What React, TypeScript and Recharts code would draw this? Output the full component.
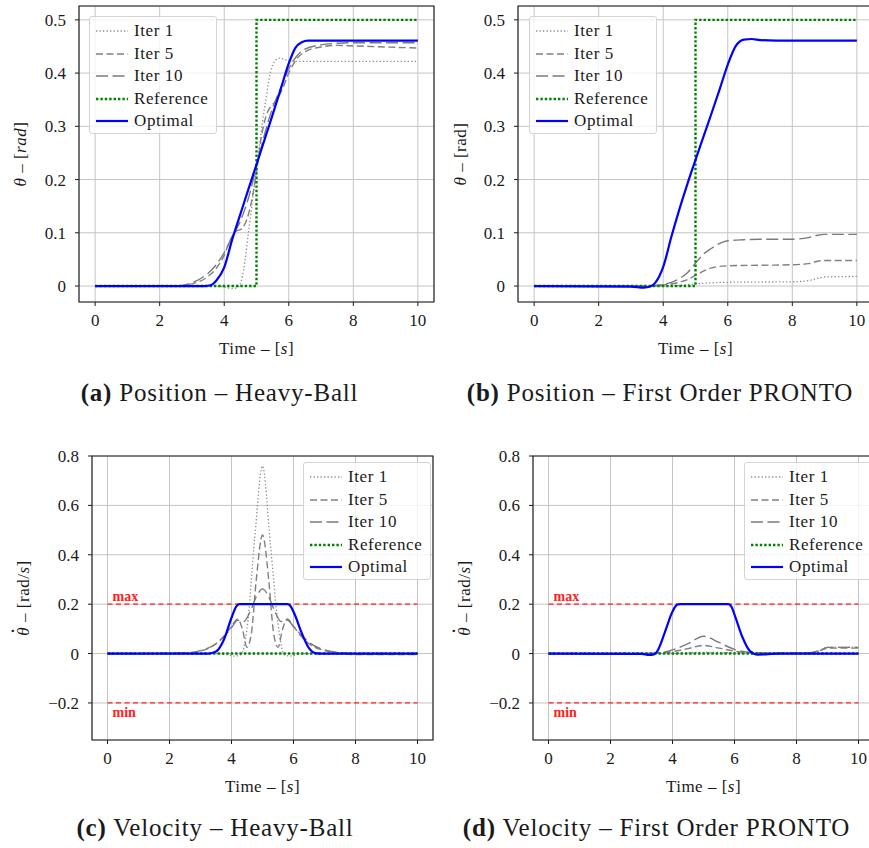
import React from 'react';
import { LineChart, Line, XAxis, YAxis, CartesianGrid, ReferenceArea, ReferenceLine } from 'recharts';

type Pt = [number, number];

const FONT = "'Liberation Serif', 'Times New Roman', serif";

const xTicks = [0, 2, 4, 6, 8, 10];
const posTicks = [0, 0.1, 0.2, 0.3, 0.4, 0.5];
const velTicks = [-0.2, 0, 0.2, 0.4, 0.6, 0.8];
const seriesNames = ['Iter 1', 'Iter 5', 'Iter 10', 'Reference', 'Optimal'];
const velLimits = [0.2, -0.2];
const limitNames = ['max', 'min'];
const limitSpan = [0, 10];

// (a) position, heavy-ball
const hbPosIter1: Pt[] = [[0, 0], [3.5, 0], [4, -0.002], [4.25, -0.005], [4.45, -0.001], [4.6, 0.03], [4.75, 0.1], [5, 0.22], [5.25, 0.335], [5.5, 0.415], [5.7, 0.428], [5.9, 0.425], [6.25, 0.422], [10, 0.422]];
const hbPosIter5: Pt[] = [[0, 0], [2.5, 0], [3, 0.004], [3.5, 0.018], [3.75, 0.033], [4, 0.058], [4.2, 0.088], [4.35, 0.102], [4.55, 0.108], [4.7, 0.125], [4.85, 0.16], [5, 0.215], [5.15, 0.28], [5.3, 0.32], [5.45, 0.338], [5.6, 0.347], [5.8, 0.37], [6, 0.4], [6.25, 0.427], [6.5, 0.44], [7, 0.449], [7.5, 0.452], [8, 0.451], [9, 0.449], [10, 0.447]];
const hbPosIter10: Pt[] = [[0, 0], [2.5, 0], [3, 0.006], [3.5, 0.024], [3.75, 0.04], [4, 0.063], [4.25, 0.093], [4.5, 0.122], [4.75, 0.165], [5, 0.225], [5.25, 0.285], [5.5, 0.335], [5.75, 0.372], [6, 0.408], [6.25, 0.432], [6.5, 0.445], [7, 0.453], [7.5, 0.456], [8, 0.457], [10, 0.457]];
const hbPosOpt: Pt[] = [[0, 0], [3.4, 0], [3.6, 0.002], [3.75, 0.01], [4, 0.035], [4.25, 0.088], [4.5, 0.135], [4.75, 0.182], [5, 0.228], [5.25, 0.275], [5.5, 0.322], [5.75, 0.37], [6, 0.418], [6.2, 0.447], [6.4, 0.458], [6.6, 0.461], [10, 0.461]];
const posRef: Pt[] = [[0, 0], [5, 0], [5, 0.5], [10, 0.5]];

// (b) position, first order PRONTO
const prPosIter1: Pt[] = [[0, 0], [4, 0], [4.5, 0.001], [5, 0.004], [5.5, 0.006], [6, 0.007], [8, 0.008], [8.5, 0.01], [8.75, 0.014], [9, 0.017], [10, 0.018]];
const prPosIter5: Pt[] = [[0, 0], [3.5, 0], [4, 0.002], [4.5, 0.007], [4.75, 0.012], [5, 0.02], [5.25, 0.028], [5.5, 0.034], [5.75, 0.037], [6, 0.038], [7, 0.039], [8, 0.04], [8.5, 0.042], [8.75, 0.046], [9, 0.048], [10, 0.048]];
const prPosIter10: Pt[] = [[0, 0], [3.5, 0], [4, 0.003], [4.25, 0.007], [4.5, 0.014], [4.75, 0.025], [5, 0.043], [5.25, 0.06], [5.5, 0.071], [5.75, 0.08], [6, 0.085], [6.5, 0.087], [7, 0.088], [8, 0.088], [8.5, 0.091], [8.75, 0.095], [9, 0.097], [10, 0.097]];
const prPosOpt: Pt[] = [[0, 0], [3, -0.001], [3.4, -0.003], [3.6, -0.001], [3.75, 0.006], [4, 0.036], [4.25, 0.092], [4.5, 0.144], [4.75, 0.192], [5, 0.237], [5.25, 0.281], [5.5, 0.325], [5.75, 0.37], [6, 0.416], [6.25, 0.451], [6.5, 0.463], [6.75, 0.464], [7, 0.462], [7.5, 0.461], [10, 0.461]];

// (c) velocity, heavy-ball
const hbVelIter1: Pt[] = [[0, 0], [3.5, 0], [3.8, -0.004], [4.1, -0.01], [4.3, -0.005], [4.5, 0.1], [4.75, 0.47], [5, 0.76], [5.25, 0.45], [5.5, 0.12], [5.7, -0.005], [5.9, -0.01], [6.2, -0.002], [6.5, 0], [10, 0]];
const hbVelIter5: Pt[] = [[0, 0], [2.5, 0.002], [3, 0.01], [3.5, 0.04], [3.75, 0.07], [4, 0.11], [4.2, 0.14], [4.35, 0.1], [4.5, 0.025], [4.65, 0.09], [4.8, 0.3], [5, 0.48], [5.2, 0.3], [5.35, 0.09], [5.5, 0.025], [5.65, 0.1], [5.8, 0.14], [6, 0.11], [6.25, 0.07], [6.5, 0.04], [7, 0.012], [7.5, 0.002], [8, -0.004], [10, -0.004]];
const hbVelIter10: Pt[] = [[0, 0], [2.5, 0.002], [3, 0.012], [3.5, 0.04], [3.75, 0.068], [4, 0.105], [4.2, 0.135], [4.4, 0.13], [4.6, 0.17], [4.8, 0.23], [5, 0.262], [5.2, 0.23], [5.4, 0.17], [5.6, 0.13], [5.8, 0.135], [6, 0.11], [6.25, 0.075], [6.5, 0.045], [7, 0.015], [7.5, 0.004], [8, 0], [10, 0]];
const hbVelOpt: Pt[] = [[0, 0], [3.25, 0], [3.5, 0.008], [3.75, 0.055], [4, 0.145], [4.15, 0.19], [4.25, 0.2], [5.8, 0.2], [5.9, 0.193], [6.05, 0.155], [6.25, 0.088], [6.5, 0.022], [6.7, 0.002], [6.9, 0], [10, 0]];
const velRef: Pt[] = [[0, 0], [10, 0]];

// (d) velocity, first order PRONTO
const prVelIter1: Pt[] = [[0, 0], [4, 0.001], [5, 0.005], [6, 0.003], [7, 0.001], [8.5, 0.003], [8.75, 0.012], [9, 0.026], [10, 0.026]];
const prVelIter5: Pt[] = [[0, 0], [3.5, 0.001], [4, 0.008], [4.5, 0.02], [5, 0.033], [5.5, 0.022], [6, 0.01], [6.5, 0.003], [7, 0.001], [8, 0.001], [8.5, 0.004], [8.75, 0.012], [9, 0.022], [10, 0.022]];
const prVelIter10: Pt[] = [[0, 0], [3, 0], [3.5, 0.002], [4, 0.015], [4.5, 0.04], [5, 0.07], [5.5, 0.045], [6, 0.017], [6.5, 0.005], [7, 0.002], [8, 0.002], [8.5, 0.005], [8.75, 0.013], [9, 0.025], [10, 0.025]];
const prVelOpt: Pt[] = [[0, 0], [3, -0.001], [3.25, -0.005], [3.4, -0.003], [3.5, 0.008], [3.75, 0.085], [4, 0.17], [4.15, 0.198], [4.25, 0.2], [5.8, 0.2], [5.9, 0.19], [6, 0.158], [6.25, 0.068], [6.5, 0.01], [6.75, -0.004], [7, -0.003], [7.5, 0], [10, 0]];

const xDomain: [number, number] = [-0.5, 10.5];
const posDomain: [number, number] = [-0.03, 0.526];
const velDomain: [number, number] = [-0.35, 0.8];

const LINE_STYLES: any[] = [
  { stroke: '#8c8c8c', strokeWidth: 1.3, strokeDasharray: '1.3 2.2' },
  { stroke: '#808080', strokeWidth: 1.4, strokeDasharray: '7 3.5' },
  { stroke: '#7a7a7a', strokeWidth: 1.4, strokeDasharray: '12 4.5' },
  { stroke: '#008000', strokeWidth: 2.4, strokeDasharray: '2.4 2' },
  { stroke: '#0000ff', strokeWidth: 2.2 },
];

const TICK = { fill: '#1a1a1a', fontSize: 17, fontFamily: FONT };

const toRows = (pts: Pt[]) => pts.map(([t, v]) => ({ t, v }));

const fmtY = (v: number) => (v === 0 ? '0' : v < 0 ? '\u2212' + Math.abs(v).toFixed(1) : v.toFixed(1));

const XTitle = (props: any) => {
  const vb = props.viewBox;
  return (
    <text x={vb.x + vb.width / 2} y={vb.y + 46} textAnchor="middle" dominantBaseline="central"
      fontFamily={FONT} fontSize={17} fill="#1a1a1a" letterSpacing={0.5}>
      Time – [<tspan fontStyle="italic">s</tspan>]
    </text>
  );
};

const YTitle = (props: any) => {
  const vb = props.viewBox;
  const x = vb.x + vb.width - props.offsetX;
  const cy = vb.y + vb.height / 2;
  return (
    <text x={x} y={cy} transform={`rotate(-90, ${x}, ${cy})`} textAnchor="middle" dominantBaseline="central"
      fontFamily={FONT} fontSize={17} fill="#1a1a1a" letterSpacing={0.5}>
      {props.children}
    </text>
  );
};

const LimitLabel = (props: any) => {
  const vb = props.viewBox;
  return (
    <text x={vb.x + 5} y={props.above ? vb.y - 3 : vb.y + 14} fontFamily={FONT} fontSize={14}
      fontWeight="bold" fill="#ff2020">
      {props.text}
    </text>
  );
};

const LegendBox = ({ left, top }: { left: number; top: number }) => (
  <div style={{
    position: 'absolute', left, top, width: 128, height: 118, boxSizing: 'border-box',
    border: '1px solid #d4d4d4', borderRadius: 3, background: 'rgba(255,255,255,0.8)',
    fontFamily: FONT, fontSize: 17, color: '#1a1a1a',
  }}>
    {seriesNames.map((name, i) => (
      <div key={name} style={{ position: 'absolute', left: 6, top: 3 + i * 22.5, height: 22, display: 'flex', alignItems: 'center', whiteSpace: 'nowrap' }}>
        <svg width={32} height={10}><line x1={0} x2={32} y1={5} y2={5} {...LINE_STYLES[i]} /></svg>
        <span style={{ marginLeft: 6, letterSpacing: 0.6 }}>{name}</span>
      </div>
    ))}
  </div>
);

interface PanelProps {
  left: number;
  top: number;
  width: number;
  height: number;
  marginTop: number;
  yWidth: number;
  yDomain: [number, number];
  yTicks: number[];
  series: Pt[][];
  limits?: boolean;
  yTitle: React.ReactNode;
  yTitleOffset: number;
  legend: [number, number];
}

const Panel: React.FC<PanelProps> = (p) => (
  <div style={{ position: 'absolute', left: p.left, top: p.top }}>
    <LineChart width={p.width} height={p.height} margin={{ top: p.marginTop, right: 1, bottom: 0, left: 0 }}>
      <CartesianGrid stroke="#c4c4c4" strokeWidth={1} />
      <XAxis type="number" dataKey="t" domain={xDomain} ticks={xTicks} allowDataOverflow interval={0}
        height={58} axisLine={false} tickLine={{ stroke: '#1a1a1a' }} tickSize={4} tickMargin={8}
        tick={TICK} label={<XTitle />} />
      <YAxis type="number" domain={p.yDomain} ticks={p.yTicks} allowDataOverflow interval={0}
        width={p.yWidth} axisLine={false} tickLine={{ stroke: '#1a1a1a' }} tickSize={4} tickMargin={9}
        tick={TICK} tickFormatter={fmtY}
        label={<YTitle offsetX={p.yTitleOffset}>{p.yTitle}</YTitle>} />
      <ReferenceArea x1={xDomain[0]} x2={xDomain[1]} y1={p.yDomain[0]} y2={p.yDomain[1]}
        fill="none" fillOpacity={0} stroke="#1a1a1a" strokeWidth={1.1} ifOverflow="visible" />
      {p.limits && velLimits.map((lv, i) => (
        <ReferenceLine key={lv} segment={[{ x: limitSpan[0], y: lv }, { x: limitSpan[1], y: lv }]}
          stroke="#ff2020" strokeWidth={1.2} strokeDasharray="5 3.5"
          label={<LimitLabel text={limitNames[i]} above={lv > 0} />} />
      ))}
      {p.series.map((pts, i) => (
        <Line key={seriesNames[i]} name={seriesNames[i]} data={toRows(pts)} dataKey="v"
          type={i === 3 ? 'linear' : 'monotone'} dot={false} activeDot={false}
          isAnimationActive={false} {...LINE_STYLES[i]} />
      ))}
    </LineChart>
    <LegendBox left={p.legend[0]} top={p.legend[1]} />
  </div>
);

const Caption = ({ cx, cy, tag, text }: { cx: number; cy: number; tag: string; text: string }) => (
  <div style={{
    position: 'absolute', left: cx - 250, top: cy - 15, width: 500, height: 30, lineHeight: '30px',
    textAlign: 'center', fontFamily: FONT, fontSize: 25, color: '#1a1a1a', letterSpacing: 0.8, whiteSpace: 'nowrap',
  }}>
    <b>{tag}</b> {text}
  </div>
);

const thetaPos = (italicUnit: boolean) => (
  <>
    <tspan fontStyle="italic">θ</tspan> – [{italicUnit ? <tspan fontStyle="italic">rad</tspan> : 'rad'}]
  </>
);

const thetaVel = (
  <>
    <tspan fontStyle="italic">θ</tspan>
    <tspan dx={-7} dy={-6} fontWeight="bold">˙</tspan>
    <tspan dx={1} dy={6}> – [rad/<tspan fontStyle="italic">s</tspan>]</tspan>
  </>
);

export default function App() {
  return (
    <div style={{ position: 'absolute', left: 0, top: 0, width: 869, height: 848, overflow: 'hidden', background: '#fff' }}>
      <Panel left={0} top={0} width={435} height={360} marginTop={6} yWidth={79}
        yDomain={posDomain} yTicks={posTicks}
        series={[hbPosIter1, hbPosIter5, hbPosIter10, posRef, hbPosOpt]}
        yTitle={thetaPos(true)} yTitleOffset={59} legend={[89, 16]} />
      <Panel left={435} top={0} width={439} height={360} marginTop={6} yWidth={83}
        yDomain={posDomain} yTicks={posTicks}
        series={[prPosIter1, prPosIter5, prPosIter10, posRef, prPosOpt]}
        yTitle={thetaPos(false)} yTitleOffset={58} legend={[94, 16]} />
      <Panel left={0} top={430} width={434} height={368} marginTop={26} yWidth={92}
        yDomain={velDomain} yTicks={velTicks} limits
        series={[hbVelIter1, hbVelIter5, hbVelIter10, velRef, hbVelOpt]}
        yTitle={thetaVel} yTitleOffset={69} legend={[303, 32]} />
      <Panel left={435} top={430} width={440} height={368} marginTop={26} yWidth={98}
        yDomain={velDomain} yTicks={velTicks} limits
        series={[prVelIter1, prVelIter5, prVelIter10, velRef, prVelOpt]}
        yTitle={thetaVel} yTitleOffset={69} legend={[309, 32]} />
      <Caption cx={219.5} cy={393} tag="(a)" text="Position – Heavy-Ball" />
      <Caption cx={660} cy={393} tag="(b)" text="Position – First Order PRONTO" />
      <Caption cx={215} cy={828} tag="(c)" text="Velocity – Heavy-Ball" />
      <Caption cx={656.5} cy={828} tag="(d)" text="Velocity – First Order PRONTO" />
    </div>
  );
}
